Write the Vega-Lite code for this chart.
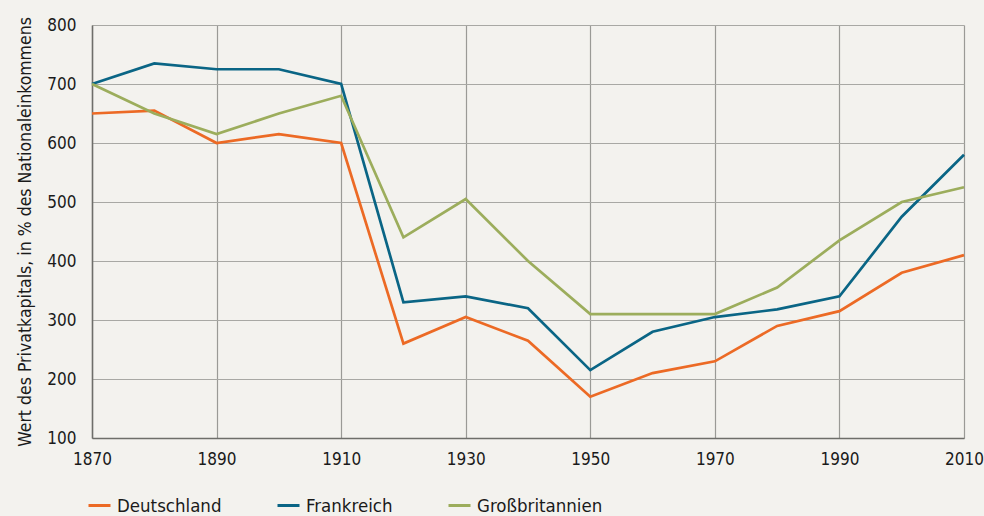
{
  "$schema": "https://vega.github.io/schema/vega-lite/v6.json",
  "width": 872,
  "height": 413,
  "autosize": {"type": "none"},
  "padding": {"left": 92, "top": 25, "right": 20, "bottom": 78},
  "background": "#f3f2ee",
  "config": {
    "view": {"stroke": null},
    "font": "DejaVu Sans Condensed",
    "axis": {"labelFont": "DejaVu Sans Condensed", "titleFont": "DejaVu Sans Condensed"},
    "legend": {"labelFont": "DejaVu Sans Condensed"}
  },
  "data": {
    "values": [
      {"jahr": 1870, "land": "Deutschland", "wert": 650},
      {"jahr": 1880, "land": "Deutschland", "wert": 655},
      {"jahr": 1890, "land": "Deutschland", "wert": 600},
      {"jahr": 1900, "land": "Deutschland", "wert": 615},
      {"jahr": 1910, "land": "Deutschland", "wert": 600},
      {"jahr": 1920, "land": "Deutschland", "wert": 260},
      {"jahr": 1930, "land": "Deutschland", "wert": 305},
      {"jahr": 1940, "land": "Deutschland", "wert": 265},
      {"jahr": 1950, "land": "Deutschland", "wert": 170},
      {"jahr": 1960, "land": "Deutschland", "wert": 210},
      {"jahr": 1970, "land": "Deutschland", "wert": 230},
      {"jahr": 1980, "land": "Deutschland", "wert": 290},
      {"jahr": 1990, "land": "Deutschland", "wert": 315},
      {"jahr": 2000, "land": "Deutschland", "wert": 380},
      {"jahr": 2010, "land": "Deutschland", "wert": 410},
      {"jahr": 1870, "land": "Frankreich", "wert": 700},
      {"jahr": 1880, "land": "Frankreich", "wert": 735},
      {"jahr": 1890, "land": "Frankreich", "wert": 725},
      {"jahr": 1900, "land": "Frankreich", "wert": 725},
      {"jahr": 1910, "land": "Frankreich", "wert": 700},
      {"jahr": 1920, "land": "Frankreich", "wert": 330},
      {"jahr": 1930, "land": "Frankreich", "wert": 340},
      {"jahr": 1940, "land": "Frankreich", "wert": 320},
      {"jahr": 1950, "land": "Frankreich", "wert": 215},
      {"jahr": 1960, "land": "Frankreich", "wert": 280},
      {"jahr": 1970, "land": "Frankreich", "wert": 305},
      {"jahr": 1980, "land": "Frankreich", "wert": 318},
      {"jahr": 1990, "land": "Frankreich", "wert": 340},
      {"jahr": 2000, "land": "Frankreich", "wert": 475},
      {"jahr": 2010, "land": "Frankreich", "wert": 580},
      {"jahr": 1870, "land": "Großbritannien", "wert": 700},
      {"jahr": 1880, "land": "Großbritannien", "wert": 650},
      {"jahr": 1890, "land": "Großbritannien", "wert": 615},
      {"jahr": 1900, "land": "Großbritannien", "wert": 650},
      {"jahr": 1910, "land": "Großbritannien", "wert": 680},
      {"jahr": 1920, "land": "Großbritannien", "wert": 440},
      {"jahr": 1930, "land": "Großbritannien", "wert": 505},
      {"jahr": 1940, "land": "Großbritannien", "wert": 400},
      {"jahr": 1950, "land": "Großbritannien", "wert": 310},
      {"jahr": 1960, "land": "Großbritannien", "wert": 310},
      {"jahr": 1970, "land": "Großbritannien", "wert": 310},
      {"jahr": 1980, "land": "Großbritannien", "wert": 355},
      {"jahr": 1990, "land": "Großbritannien", "wert": 435},
      {"jahr": 2000, "land": "Großbritannien", "wert": 500},
      {"jahr": 2010, "land": "Großbritannien", "wert": 525}
    ]
  },
  "mark": {"type": "line", "strokeWidth": 2.7},
  "encoding": {
    "x": {
      "field": "jahr",
      "type": "quantitative",
      "scale": {"domain": [1870, 2010], "nice": false, "zero": false},
      "axis": {
        "title": null,
        "values": [1870, 1890, 1910, 1930, 1950, 1970, 1990, 2010],
        "format": "d",
        "grid": true,
        "gridColor": "#9a9a96",
        "gridWidth": 1.2,
        "domainColor": "#6e6e6a",
        "domainWidth": 1.5,
        "ticks": false,
        "labelPadding": 13,
        "labelFontSize": 17,
        "labelColor": "#1a1a1a",
        "labelFlush": false
      }
    },
    "y": {
      "field": "wert",
      "type": "quantitative",
      "scale": {"domain": [100, 800], "nice": false, "zero": false},
      "axis": {
        "title": "Wert des Privatkapitals, in % des Nationaleinkommens",
        "titleFontSize": 17.5,
        "titleFontWeight": "normal",
        "titleColor": "#1a1a1a",
        "titlePadding": 12,
        "values": [100, 200, 300, 400, 500, 600, 700, 800],
        "grid": true,
        "gridColor": "#a8a8a4",
        "gridWidth": 1.2,
        "domainColor": "#6e6e6a",
        "domainWidth": 1.5,
        "ticks": false,
        "labelPadding": 16,
        "labelFontSize": 17,
        "labelColor": "#1a1a1a"
      }
    },
    "color": {
      "field": "land",
      "type": "nominal",
      "scale": {
        "domain": ["Deutschland", "Frankreich", "Großbritannien"],
        "range": ["#ec6a25", "#0a6585", "#9cad5c"]
      },
      "legend": {
        "title": null,
        "orient": "none",
        "direction": "horizontal",
        "legendX": -5,
        "legendY": 468,
        "symbolType": "stroke",
        "symbolStrokeWidth": 3,
        "symbolSize": 484,
        "labelFontSize": 18.5,
        "labelColor": "#1a1a1a",
        "labelOffset": 5,
        "columnPadding": 49
      }
    }
  }
}
